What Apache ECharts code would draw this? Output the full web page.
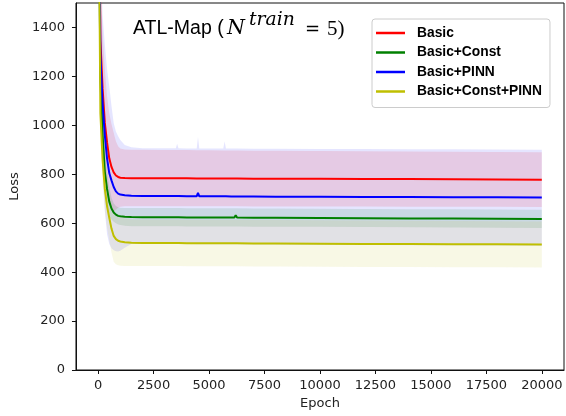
<!DOCTYPE html>
<html>
<head>
<meta charset="utf-8">
<script src="https://cdn.jsdelivr.net/npm/echarts@6/dist/echarts.min.js"></script>
<style>html,body{margin:0;padding:0;background:#fff}#c{width:566px;height:416px}</style>
</head>
<body>
<div id="c"></div>
<script>
// ---- data ----
const seriesNames = ['Basic', 'Basic+Const', 'Basic+PINN', 'Basic+Const+PINN'];
const xTicks = [0, 2500, 5000, 7500, 10000, 12500, 15000, 17500, 20000];
const yTicks = [0, 200, 400, 600, 800, 1000, 1200, 1400];
const epochs = [0,100,200,300,400,500,600,700,800,900,
  1000,1200,1500,2000,3000,3500,3560,3620,4000,4440,
  4500,4560,5000,5640,5700,5760,6000,6140,6200,6260,
  7000,8000,10000,12000,14000,16000,18000,20000];

const basicMean = [2500,1350,1150,1010,930,865,830,808,795,789,
  786,785,784,784,784,784,784,784,784,783,
  783,783,783,783,783,783,783,783,783,783,
  782,782,782,781,781,780,779,778];
const basicHigh = [2900,1600,1380,1230,1120,1050,1005,970,935,915,
  905,901,900,900,899,899,899,899,899,898,
  898,898,898,897,897,897,897,897,897,897,
  896,896,895,894,893,892,891,890];
const basicLow = [2100,1100,920,790,740,680,655,646,655,663,
  667,669,669,669,669,669,669,669,669,669,
  669,669,669,669,669,669,669,669,669,669,
  668,668,668,668,667,667,667,666];

const constMean = [2300,1200,960,810,740,688,660,644,635,630,
  628,626,625,624,624,624,624,624,623,623,
  623,623,623,623,623,623,623,623,633,623,
  622,622,621,620,619,619,618,617];
const constHigh = [2500,1350,1080,900,810,750,705,682,670,665,
  663,662,662,662,662,662,662,662,661,661,
  661,661,661,661,661,661,661,661,661,661,
  660,660,659,658,657,657,656,655];
const constLow = [2100,1050,840,720,670,626,615,606,600,595,
  593,590,588,588,588,588,588,588,587,587,
  587,587,587,587,587,587,587,587,587,587,
  586,586,585,584,583,582,581,580];

const pinnMean = [2400,1280,1090,960,865,805,775,748,730,721,
  717,714,712,711,711,711,711,711,710,710,
  724,710,710,710,710,710,709,709,715,709,
  709,708,708,707,707,706,706,705];
const pinnHigh = [3000,1700,1450,1330,1230,1160,1080,1010,975,955,
  940,920,910,906,906,906,925,906,905,905,
  952,905,905,905,935,905,905,905,905,905,
  904,904,903,903,902,902,901,900];
const pinnLow = [1600,1000,810,650,555,515,498,489,485,484,
  487,500,515,516,515,515,515,515,515,514,
  514,514,514,514,514,514,514,514,514,514,
  513,513,512,511,510,510,509,508];

const bothMean = [2200,1050,860,740,670,622,578,548,535,528,
  525,522,520,519,519,519,519,519,518,518,
  518,518,518,518,518,518,518,518,522,518,
  517,517,516,515,515,514,514,513];
const bothHigh = [2500,1250,960,830,760,714,676,654,638,630,
  624,619,616,615,615,615,615,615,614,614,
  614,614,614,614,614,614,614,614,614,614,
  613,613,612,611,610,609,608,607];
const bothLow = [1900,950,760,650,580,530,480,442,432,428,
  426,425,425,425,425,425,425,425,424,424,
  424,424,424,424,424,424,424,424,424,424,
  423,423,422,421,421,420,420,419];

// ---- styling ----
const colors = ['#ff0000', '#008000', '#0000ff', '#bfbf00'];
const fills = ['rgba(255,0,0,0.12)', 'rgba(0,128,0,0.12)', 'rgba(0,0,255,0.1)', 'rgba(191,191,0,0.1)'];
const means = [basicMean, constMean, pinnMean, bothMean];
const highs = [basicHigh, constHigh, pinnHigh, bothHigh];
const lows = [basicLow, constLow, pinnLow, bothLow];

function bandSeries(k) {
  return {
    type: 'custom',
    clip: true,
    silent: true,
    z: 1,
    data: [[0, 0]],
    encode: { x: 0, y: 1 },
    renderItem: function (params, api) {
      const pts = [];
      for (let i = 0; i < epochs.length; i++) pts.push(api.coord([epochs[i], highs[k][i]]));
      for (let i = epochs.length - 1; i >= 0; i--) pts.push(api.coord([epochs[i], lows[k][i]]));
      return { type: 'polygon', shape: { points: pts }, style: { fill: fills[k], stroke: null } };
    }
  };
}
function lineSeries(k) {
  return {
    type: 'line',
    name: seriesNames[k],
    z: 3,
    symbol: 'none',
    showSymbol: false,
    clip: true,
    itemStyle: { color: colors[k] },
    lineStyle: { color: colors[k], width: 2 },
    data: epochs.map((e, i) => [e, means[k][i]])
  };
}
function txt(x, y, text, family, size, italic) {
  return {
    type: 'text', x: x, y: y, silent: true, z: 10,
    style: { text: text, fontFamily: family, fontSize: size, fontStyle: italic ? 'italic' : 'normal',
             fontWeight: 'normal', fill: '#000', align: 'left', verticalAlign: 'middle' }
  };
}

const axisText = { fontFamily: 'DejaVu Sans', fontSize: 13, color: '#222' };
const plain = v => String(v);
const chart = echarts.init(document.getElementById('c'), null, { renderer: 'canvas' });
chart.setOption({
  animation: false,
  grid: { left: 72, right: 2, top: 3, bottom: 46, show: true, borderColor: '#111', borderWidth: 1, backgroundColor: 'transparent' },
  graphic: [
    txt(133, 29, 'ATL-Map (', 'Liberation Sans', 19.5, false),
    txt(227, 28.8, 'N', 'DejaVu Serif', 20.5, true),
    txt(249, 19.8, 'train', 'DejaVu Serif', 18.8, true),
    txt(305, 29.5, '=', 'DejaVu Sans', 18, false),
    txt(327, 29, '5)', 'Liberation Serif', 21, false)
  ],
  legend: {
    data: seriesNames,
    orient: 'vertical',
    left: 372, top: 19,
    icon: 'rect',
    itemWidth: 29, itemHeight: 2.5,
    itemGap: 5.5,
    padding: [7, 8, 9, 4],
    backgroundColor: '#fff',
    borderColor: '#cccccc', borderWidth: 1, borderRadius: 3,
    textStyle: { fontFamily: 'Liberation Sans', fontWeight: 'bold', fontSize: 13.8, color: '#000', padding: [0, 0, 0, 7], lineHeight: 14 }
  },
  xAxis: {
    type: 'value', min: -1000, max: 21000,
    name: 'Epoch', nameLocation: 'middle', nameGap: 26,
    nameTextStyle: axisText,
    axisLine: { show: true, onZero: false, lineStyle: { color: '#111', width: 1 } },
    axisTick: { show: true, length: 4, customValues: xTicks, lineStyle: { color: '#111' } },
    axisLabel: { customValues: xTicks, margin: 9, formatter: plain, ...axisText },
    splitLine: { show: false }
  },
  yAxis: {
    type: 'value', min: 0, max: 1500,
    name: 'Loss', nameLocation: 'middle', nameGap: 53,
    nameTextStyle: axisText,
    axisLine: { show: true, onZero: false, lineStyle: { color: '#111', width: 1 } },
    axisTick: { show: true, length: 4, customValues: yTicks, lineStyle: { color: '#111' } },
    axisLabel: { customValues: yTicks, margin: 11, formatter: plain, ...axisText },
    splitLine: { show: false }
  },
  series: [bandSeries(0), bandSeries(1), bandSeries(2), bandSeries(3),
           lineSeries(0), lineSeries(1), lineSeries(2), lineSeries(3)]
});
</script>
</body>
</html>
